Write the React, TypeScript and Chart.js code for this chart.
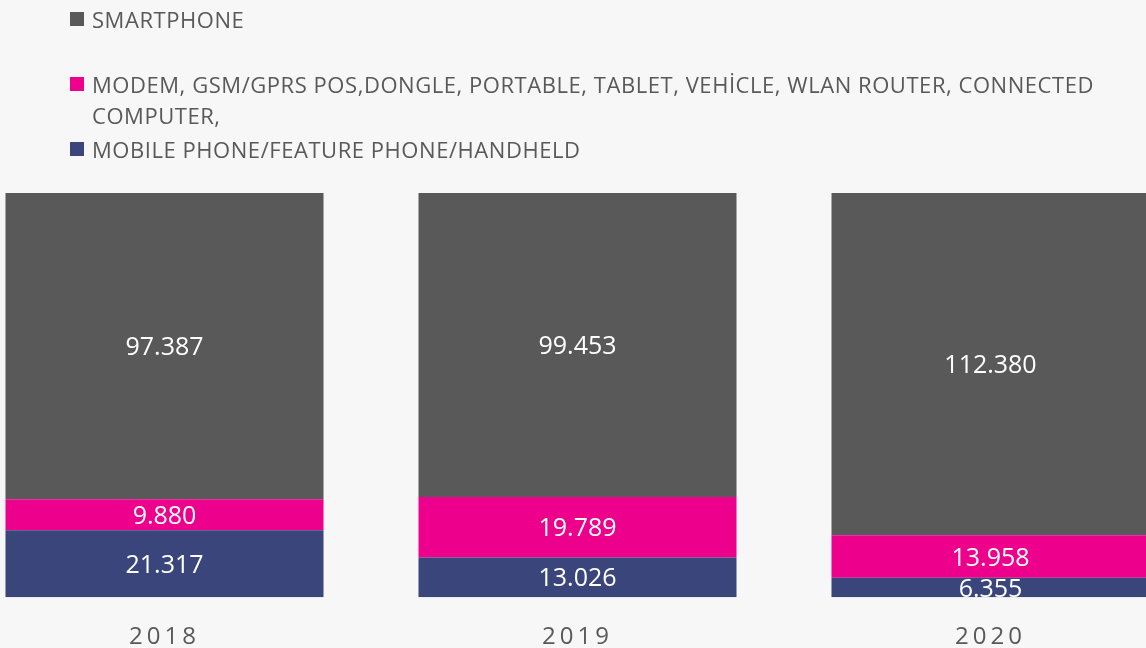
import React, { useEffect, useRef } from "react";
import { Chart, registerables } from "chart.js";

Chart.register(...registerables);

const years = ["2018", "2019", "2020"];
const mobilePhone = [21317, 13026, 6355];
const modem = [9880, 19789, 13958];
const smartphone = [97387, 99453, 112380];

const seriesNames = [
  "SMARTPHONE",
  "MODEM, GSM/GPRS POS,DONGLE, PORTABLE, TABLET, VEHİCLE, WLAN ROUTER, CONNECTED COMPUTER,",
  "MOBILE PHONE/FEATURE PHONE/HANDHELD",
];
const colors = ["#595959", "#ec008c", "#3a457c"];

const FONT = "'Open Sans', 'Noto Sans', sans-serif";

const fmt = (v: number) => v.toString().replace(/\B(?=(\d{3})+(?!\d))/g, ".");

export default function App() {
  const ref = useRef<HTMLCanvasElement | null>(null);

  useEffect(() => {
    const totals = years.map((_, i) => mobilePhone[i] + modem[i] + smartphone[i]);
    const pct = (arr: number[]) => arr.map((v, i) => (v / totals[i]) * 100);
    const raw = [mobilePhone, modem, smartphone];

    const labelPlugin = {
      id: "segLabels",
      beforeDraw(chart: any) {
        chart.ctx.letterSpacing = "4px";
      },
      beforeDatasetsDraw(chart: any) {
        chart.ctx.letterSpacing = "0px";
      },
      afterDatasetsDraw(chart: any) {
        const ctx = chart.ctx;
        const area = chart.chartArea;
        ctx.save();
        ctx.beginPath();
        ctx.rect(area.left, area.top, area.right - area.left, area.bottom - area.top);
        ctx.clip();
        ctx.fillStyle = "#ffffff";
        ctx.font = `25px ${FONT}`;
        ctx.textAlign = "center";
        ctx.textBaseline = "middle";
        chart.data.datasets.forEach((ds: any, di: number) => {
          const meta = chart.getDatasetMeta(di);
          meta.data.forEach((bar: any, i: number) => {
            const y = (bar.y + bar.base) / 2;
            ctx.fillText(fmt(raw[di][i]), bar.x, y + 2);
          });
        });
        ctx.restore();
      },
    };

    const chart = new Chart(ref.current!, {
      type: "bar",
      data: {
        labels: years,
        datasets: [
          { label: seriesNames[2], data: pct(mobilePhone), backgroundColor: colors[2] },
          { label: seriesNames[1], data: pct(modem), backgroundColor: colors[1] },
          { label: seriesNames[0], data: pct(smartphone), backgroundColor: colors[0] },
        ],
      },
      options: {
        animation: false,
        responsive: false,
        maintainAspectRatio: false,
        layout: { padding: { top: 193, bottom: 0, left: 0, right: 0 } },
        datasets: { bar: { categoryPercentage: 1, barPercentage: 0.77, borderWidth: 0 } },
        plugins: { legend: { display: false }, tooltip: { enabled: false } },
        scales: {
          x: {
            stacked: true,
            grid: { display: false, drawTicks: false },
            border: { display: false },
            ticks: { color: "#595959", font: { family: FONT, size: 24 }, padding: 26 },
          },
          y: { stacked: true, display: false, min: 0, max: 100 },
        },
      },
      plugins: [labelPlugin],
    });
    return () => chart.destroy();
  }, []);

  const legendItems = [
    { name: seriesNames[0], color: colors[0], mt: 3.5 },
    { name: seriesNames[1], color: colors[1], mt: 34 },
    { name: seriesNames[2], color: colors[2], mt: 3 },
  ];

  return (
    <div
      style={{
        position: "fixed",
        left: 0,
        top: 0,
        width: 1146,
        height: 648,
        overflow: "hidden",
        background: "#f7f7f7",
        fontFamily: FONT,
      }}
    >
      <canvas
        ref={ref}
        width={1239}
        height={678}
        style={{ position: "absolute", left: -42.5, top: 0, width: 1239, height: 678 }}
      />
      <div style={{ position: "absolute", left: 70, top: 0, width: 1045 }}>
        {legendItems.map((it) => (
          <div key={it.name} style={{ display: "flex", alignItems: "flex-start", marginTop: it.mt }}>
            <div
              style={{
                width: 14,
                height: 14,
                background: it.color,
                marginTop: 8.5,
                marginRight: 8,
                flex: "0 0 auto",
              }}
            />
            <div style={{ color: "#595959", fontSize: 22, letterSpacing: "0.55px", lineHeight: "31px" }}>
              {it.name}
            </div>
          </div>
        ))}
      </div>
    </div>
  );
}
